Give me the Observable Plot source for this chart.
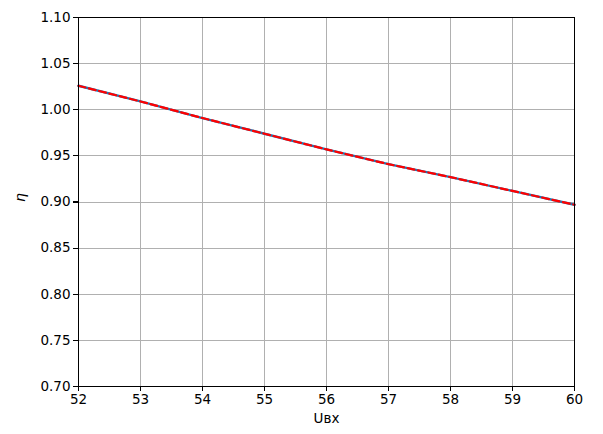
<!DOCTYPE html>
<html>
<head>
<meta charset="utf-8">
<script src="https://cdn.jsdelivr.net/npm/d3@7"></script>
<script src="https://cdn.jsdelivr.net/npm/@observablehq/plot@0.6"></script>
<style>
  html, body { margin: 0; padding: 0; background: #fff; }
  #chart svg { display: block; }
</style>
</head>
<body>
<div id="chart"></div>
<script>
const uIn = [52, 53, 54, 55, 56, 57, 58, 59, 60];
const etaMeasured = [1.026, 1.009, 0.991, 0.974, 0.957, 0.941, 0.927, 0.912, 0.897];
const etaModel = [1.026, 1.009, 0.991, 0.974, 0.957, 0.941, 0.927, 0.912, 0.897];
const xTicks = [52, 53, 54, 55, 56, 57, 58, 59, 60];
const yTicks = [0.70, 0.75, 0.80, 0.85, 0.90, 0.95, 1.00, 1.05, 1.10];
const xLabel = ["Uвх"];
const yLabel = ["η"];

const measured = uIn.map((u, i) => ({u, eta: etaMeasured[i]}));
const model = uIn.map((u, i) => ({u, eta: etaModel[i]}));

const chart = Plot.plot({
  width: 603,
  height: 434,
  marginLeft: 78,
  marginRight: 29,
  marginTop: 17,
  marginBottom: 48,
  style: {fontFamily: "DejaVu Sans", fontSize: "13px", color: "black", background: "white", overflow: "visible"},
  x: {domain: [52, 60]},
  y: {domain: [0.70, 1.10]},
  marks: [
    Plot.gridX(xTicks, {stroke: "#b0b0b0", strokeOpacity: 1, strokeWidth: 1, shapeRendering: "crispEdges"}),
    Plot.gridY(yTicks, {stroke: "#b0b0b0", strokeOpacity: 1, strokeWidth: 1, shapeRendering: "crispEdges"}),
    Plot.line(measured, {x: "u", y: "eta", stroke: "#1f77b4", strokeWidth: 2.4}),
    Plot.line(model, {x: "u", y: "eta", stroke: "red", strokeWidth: 2.2, strokeDasharray: "7,3.6"}),
    Plot.frame({stroke: "black", strokeWidth: 1.2, strokeOpacity: 1, shapeRendering: "crispEdges"}),
    Plot.axisX(xTicks, {tickSize: 5, tickPadding: 3, stroke: "black", strokeOpacity: 1, strokeWidth: 1.2, shapeRendering: "crispEdges", fontSize: 13.5, label: null, tickFormat: d => String(d)}),
    Plot.axisY(yTicks, {tickSize: 5, tickPadding: 3, stroke: "black", strokeOpacity: 1, strokeWidth: 1.2, shapeRendering: "crispEdges", fontSize: 13.5, label: null, tickFormat: d3.format(".2f")}),
    Plot.text(xLabel, {text: d => d, frameAnchor: "bottom", dy: 36, fontSize: 13.5, fill: "black"}),
    Plot.text(yLabel, {text: d => d, frameAnchor: "left", dx: -58, rotate: -90, fontSize: 14, fontStyle: "italic", fill: "black"})
  ]
});
document.getElementById("chart").appendChild(chart);
</script>
</body>
</html>
